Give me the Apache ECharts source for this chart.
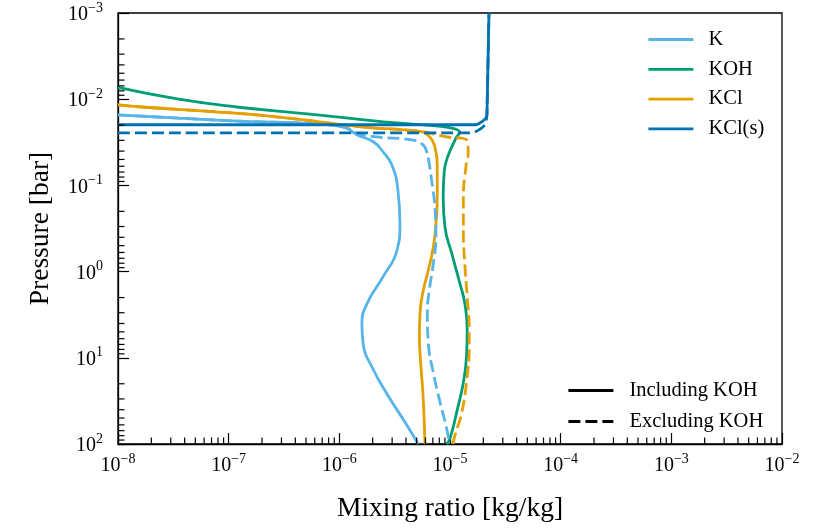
<!DOCTYPE html>
<html>
<head>
<meta charset="utf-8">
<script src="https://cdn.jsdelivr.net/npm/echarts@6/dist/echarts.min.js"></script>
<style>
html,body{margin:0;padding:0;background:#fff;}
#chart{width:829px;height:528px;}
</style>
</head>
<body>
<div id="chart"></div>
<script>
// ---- data: [mixing ratio (kg/kg), pressure (bar)] ----
const kIncl = [[1e-8,0.0152],[3.54e-8,0.0166],[1.41e-7,0.0181],[5.66e-7,0.0192],[1.12e-6,0.0212],[1.44e-6,0.0258],[2.03e-6,0.0312],[2.48e-6,0.0407],[2.99e-6,0.0583],[3.39e-6,0.116],[3.53e-6,0.284],[3.32e-6,0.565],[2.48e-6,1.15],[1.78e-6,2.35],[1.60e-6,3.99],[1.64e-6,6.77],[2.01e-6,13.4],[2.75e-6,27.4],[4.08e-6,60.5],[5.15e-6,100]];
const kExcl = [[1e-8,0.0152],[3.54e-8,0.0166],[1.41e-7,0.0181],[5.66e-7,0.0192],[1.12e-6,0.0212],[1.44e-6,0.0250],[2.18e-6,0.0274],[4.66e-6,0.0299],[5.74e-6,0.0341],[6.15e-6,0.0407],[6.37e-6,0.0485],[6.84e-6,0.0897],[7.31e-6,0.1815],[7.46e-6,0.401],[7.06e-6,0.811],[6.50e-6,1.64],[6.24e-6,3.04],[6.37e-6,6.71],[7.06e-6,14.8],[8.13e-6,32.7],[9.33e-6,66.1],[9.86e-6,100]];
const kohIncl = [[1e-8,0.0073],[3.54e-8,0.0100],[1.23e-7,0.0124],[4.30e-7,0.0145],[1.60e-6,0.0173],[1.23e-5,0.0244],[1.15e-5,0.0274],[9.66e-6,0.0445],[8.87e-6,0.0689],[8.68e-6,0.139],[9.02e-6,0.308],[1.04e-5,0.624],[1.23e-5,1.38],[1.36e-5,2.33],[1.43e-5,4.71],[1.41e-5,9.53],[1.32e-5,19.3],[1.15e-5,42.6],[1.0e-5,86],[9.33e-6,100]];
const kclIncl = [[1e-8,0.01166],[1.75e-8,0.0124],[7.06e-8,0.0139],[2.83e-7,0.0161],[1.60e-6,0.0210],[5.36e-6,0.0236],[6.3e-6,0.0260],[7.0e-6,0.0310],[7.4e-6,0.0390],[7.67e-6,0.0579],[7.67e-6,0.139],[7.46e-6,0.282],[7.06e-6,0.523],[6.37e-6,0.966],[5.74e-6,1.64],[5.36e-6,3.04],[5.29e-6,5.62],[5.43e-6,11.4],[5.66e-6,23.0],[5.82e-6,46.5],[5.94e-6,100]];
const kclExcl = [[1e-8,0.01166],[1.75e-8,0.0124],[7.06e-8,0.0139],[2.83e-7,0.0161],[1.60e-6,0.0210],[5.36e-6,0.0236],[9.33e-6,0.0274],[1.42e-5,0.0299],[1.46e-5,0.0425],[1.40e-5,0.0579],[1.32e-5,0.139],[1.32e-5,0.336],[1.36e-5,0.811],[1.43e-5,1.95],[1.49e-5,4.71],[1.49e-5,7.99],[1.42e-5,17.6],[1.28e-5,42.6],[1.11e-5,78.8],[1.06e-5,100]];
const kclsIncl = [[1e-8,0.0198],[1.68e-5,0.0198],[1.99e-5,0.0178],[2.15e-5,0.0156],[2.16e-5,0.0140],[2.25e-5,0.001]];
const kclsExcl = [[1e-8,0.0246],[1.46e-5,0.0246],[1.68e-5,0.0240],[2.07e-5,0.0198],[2.15e-5,0.0156],[2.16e-5,0.0140],[2.25e-5,0.001]];

const speciesNames = ['K','KOH','KCl','KCl(s)'];
const styleNames = ['Including KOH','Excluding KOH'];
const colors = {K:'#56B4E9', KOH:'#009E73', KCl:'#E69F00', 'KCl(s)':'#0072B2'};
const minorMultipliers = [2,3,4,5,6,7,8,9];
const xDecades = [-8,-7,-6,-5,-4,-3];
const yDecades = [-3,-2,-1,0,1];

const FONT = 'Liberation Serif';
const LW = 2.8;
const DASH = [12,5];

const xMinor = [];
xDecades.forEach(e => minorMultipliers.forEach(m => xMinor.push([m*Math.pow(10,e), 100])));
const yMinor = [];
yDecades.forEach(e => minorMultipliers.forEach(m => yMinor.push([1e-8, m*Math.pow(10,e)])));

function supLabel(v){
  const e = Math.round(Math.log10(v));
  const s = e < 0 ? '\u2212' + (-e) : String(e);
  return '{b|10}{s|' + s + '}';
}
const richLabel = {
  b:{fontFamily:FONT,fontSize:20,color:'#000',lineHeight:24,verticalAlign:'bottom'},
  s:{fontFamily:FONT,fontSize:14,color:'#000',lineHeight:14,verticalAlign:'top'}
};

function lineSeries(name, data, color, dashed, z, smooth){
  return {
    name:name, type:'line', data:data, symbol:'none', smooth:smooth,
    lineStyle:{color:color,width:LW,type:dashed?DASH:'solid',cap:'butt'},
    itemStyle:{color:color}, z:z, clip:true, animation:false
  };
}

const series = [
  lineSeries('K', kIncl, colors.K, false, 3, 0.5),
  lineSeries('KOH', kohIncl, colors.KOH, false, 3, 0.5),
  lineSeries('KCl', kclIncl, colors.KCl, false, 3, 0.5),
  lineSeries('K excl', kExcl, colors.K, true, 4, 0.5),
  lineSeries('KCl excl', kclExcl, colors.KCl, true, 4, 0.5),
  lineSeries('KCl(s) excl', kclsExcl, colors['KCl(s)'], true, 4, 0.3),
  lineSeries('KCl(s)', kclsIncl, colors['KCl(s)'], false, 5, 0.3),
  {name:styleNames[0], type:'line', data:[], symbol:'none', lineStyle:{color:'#000',width:LW,type:'solid'}, itemStyle:{color:'#000'}},
  {name:styleNames[1], type:'line', data:[], symbol:'none', lineStyle:{color:'#000',width:LW,type:DASH}, itemStyle:{color:'#000'}},
  {type:'custom', data:xMinor, silent:true, clip:false, z:10, animation:false,
   renderItem:function(params, api){
     const p = api.coord([api.value(0), api.value(1)]);
     return {type:'line', shape:{x1:p[0],y1:p[1],x2:p[0],y2:p[1]-6.5}, style:{stroke:'#000',lineWidth:1.2}};
   }},
  {type:'custom', data:yMinor, silent:true, clip:false, z:10, animation:false,
   renderItem:function(params, api){
     const p = api.coord([api.value(0), api.value(1)]);
     return {type:'line', shape:{x1:p[0],y1:p[1],x2:p[0]+6.5,y2:p[1]}, style:{stroke:'#000',lineWidth:1.2}};
   }}
];

const chart = echarts.init(document.getElementById('chart'), null, {renderer:'canvas'});
chart.setOption({
  animation:false,
  backgroundColor:'#fff',
  grid:{left:118, top:13, width:664, height:436, show:true, borderColor:'#000', borderWidth:1.3, backgroundColor:'transparent'},
  xAxis:{
    type:'log', logBase:10, min:1e-8, max:1e-2, splitNumber:6,
    name:'Mixing ratio [kg/kg]', nameLocation:'middle', nameGap:51,
    nameTextStyle:{fontFamily:FONT,fontSize:27.5,color:'#000'},
    axisLine:{show:true,onZero:false,lineStyle:{color:'#000',width:1.3}},
    axisTick:{show:true,inside:true,length:11,lineStyle:{color:'#000',width:1.2}},
    minorTick:{show:false},
    splitLine:{show:false},
    axisLabel:{margin:8, formatter:supLabel, rich:richLabel}
  },
  yAxis:{
    type:'log', logBase:10, min:1e-3, max:1e2, inverse:true, splitNumber:5,
    name:'Pressure [bar]', nameLocation:'middle', nameGap:63, nameRotate:90,
    nameTextStyle:{fontFamily:FONT,fontSize:27.5,color:'#000'},
    axisLine:{show:true,onZero:false,lineStyle:{color:'#000',width:1.3}},
    axisTick:{show:true,inside:true,length:11,lineStyle:{color:'#000',width:1.2}},
    minorTick:{show:false},
    splitLine:{show:false},
    axisLabel:{margin:15, formatter:supLabel, rich:richLabel}
  },
  legend:[
    {data:speciesNames, orient:'vertical', left:642, top:24, itemWidth:45, itemHeight:14, itemGap:8.8,
     itemStyle:{opacity:0}, lineStyle:{width:LW},
     textStyle:{fontFamily:FONT,fontSize:20.5,color:'#000',padding:[0,0,0,10]}, selectedMode:false},
    {data:styleNames, orient:'vertical', left:562, top:375, itemWidth:45, itemHeight:14, itemGap:10,
     itemStyle:{opacity:0}, lineStyle:{width:LW},
     textStyle:{fontFamily:FONT,fontSize:20.5,color:'#000',padding:[0,0,0,11]}, selectedMode:false}
  ],
  series:series
});
</script>
</body>
</html>
